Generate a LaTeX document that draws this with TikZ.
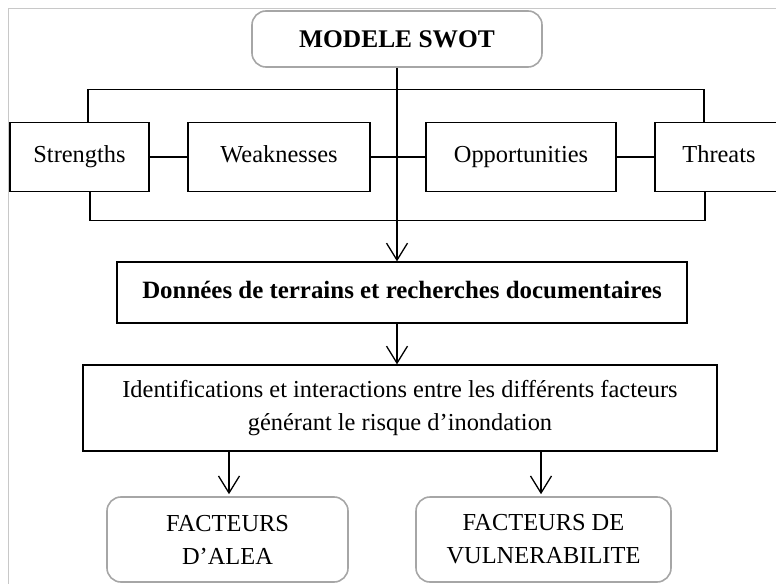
\documentclass[tikz,border=0pt]{standalone}
\usepackage{fontspec}
\setmainfont{Liberation Serif}
\usetikzlibrary{arrows.meta,calc}
\definecolor{framegray}{HTML}{C8C8C8}
\definecolor{boxgray}{HTML}{A6A6A6}
\tikzset{
  sqbox/.style={draw=black,line width=1.3bp,rectangle,minimum height=69bp,inner sep=0pt,text height=16bp,text depth=5bp,font=\fontsize{24.5}{28}\selectfont},
  rbox/.style={draw=boxgray,line width=1.6bp,rectangle,rounded corners=14bp,inner sep=0pt,align=center,font=\fontsize{24.5}{33}\selectfont},
  wbox/.style={draw=black,line width=1.3bp,rectangle,inner sep=0pt,align=center},
  conn/.style={draw=black,line width=1.3bp},
  arr/.style={conn,-{Straight Barb[length=17bp,width=21bp,line width=1.3bp]}},
}
\begin{document}
\begin{tikzpicture}[x=1bp,y=-1bp]
\useasboundingbox (0,0) rectangle (776,584);
% frame
\draw[framegray,line width=1bp] (8,600) -- (8,9) -- (800,9);
% top node
\node[rbox,minimum width=290bp,minimum height=56bp,font=\fontsize{25.5}{30}\selectfont\bfseries] (swot) at (397,39) {MODELE SWOT};
% SWOT boxes
\node[sqbox,minimum width=139bp] (S) at (79.5,157) {Strengths};
\node[sqbox,minimum width=182bp] (W) at (279,157) {Weaknesses};
\node[sqbox,minimum width=190bp] (O) at (521,157) {Opportunities};
\node[sqbox,minimum width=128bp] (T) at (719,157) {Threats};
% brackets
\draw[conn] ($(S.north)+(8.5,0)$) -- ++(0,-32) -| ($(T.north)+(-15,0)$);
\draw[conn] ($(S.south)+(10.5,0)$) -- ++(0,28) -| ($(T.south)+(-14,0)$);
% horizontal links
\draw[conn] (S.east) -- (W.west);
\draw[conn] (W.east) -- (O.west);
\draw[conn] (O.east) -- (T.west);
% second level
\node[wbox,minimum width=570bp,minimum height=61bp,text height=17bp,text depth=5bp,font=\fontsize{25}{30}\selectfont\bfseries] (don) at (402,292.5) {Données de terrains et recherches documentaires};
\draw[arr] (swot.south) -- (swot.south |- don.north);
\node[wbox,minimum width=634bp,minimum height=86bp,font=\fontsize{24.5}{33}\selectfont] (ident) at (400,408) {Identifications et interactions entre les différents facteurs\\générant le risque d’inondation};
\draw[arr] (don.south -| swot.south) -- (swot.south |- ident.north);
% bottom nodes
\node[rbox,minimum width=241bp,minimum height=85bp] (alea) at (227.5,539.5) {FACTEURS\\D’ALEA};
\node[rbox,minimum width=255bp,minimum height=85bp] (vuln) at (543.5,539.5) {FACTEURS DE\\VULNERABILITE};
\draw[arr,shorten >=2bp] (ident.south -| 229,0) -- (alea.north -| 229,0);
\draw[arr,shorten >=2bp] (ident.south -| 541,0) -- (vuln.north -| 541,0);
\end{tikzpicture}
\end{document}
